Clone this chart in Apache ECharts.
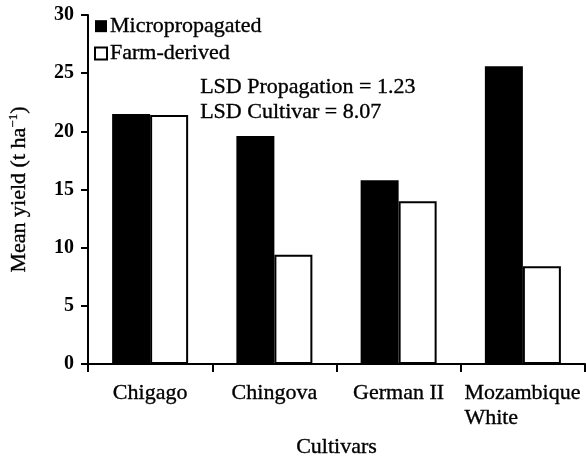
<!DOCTYPE html>
<html>
<head>
<meta charset="utf-8">
<script src="https://cdn.jsdelivr.net/npm/echarts@6/dist/echarts.min.js"></script>
<style>html,body{margin:0;padding:0;background:#fff}#c{width:586px;height:458px}</style>
</head>
<body>
<div id="c"></div>
<script>
const categories = ['Chigago', 'Chingova', 'German II', 'Mozambique\nWhite'];
const micropropagated = [21.5, 19.6, 15.8, 25.6];
const farmDerived = [21.4, 9.4, 14.0, 8.4];
const seriesNames = ['Micropropagated', 'Farm-derived'];
const lsdLines = ['LSD Propagation = 1.23', 'LSD Cultivar = 8.07'];
const yTicks = { min: 0, max: 30, interval: 5 };

const FONT = '"Liberation Serif", "Times New Roman", serif';
const TB = { textBorderColor: '#000', textBorderWidth: 0.35 };
const chart = echarts.init(document.getElementById('c'), null, { renderer: 'canvas' });
chart.setOption({
  animation: false,
  backgroundColor: '#fff',
  grid: { left: 88, right: 1, top: 15, bottom: 94, containLabel: false, outerBoundsMode: 'none' },
  legend: {
    orient: 'vertical', left: 89, top: 10, itemWidth: 12, itemHeight: 12, itemGap: 5,
    icon: 'rect',
    textStyle: Object.assign({ fontFamily: FONT, fontSize: 22, color: '#000', padding: [0, 0, 0, -2] }, TB),
    data: seriesNames
  },
  xAxis: {
    type: 'category', data: categories,
    name: 'Cultivars', nameLocation: 'middle', nameGap: 71,
    nameTextStyle: Object.assign({ fontFamily: FONT, fontSize: 22, color: '#000' }, TB),
    axisLine: { lineStyle: { color: '#000', width: 2 } },
    axisTick: { show: true, length: 8, lineStyle: { color: '#000', width: 2 } },
    axisLabel: {
      interval: 0, fontFamily: FONT, fontSize: 22, color: '#000', margin: 17, lineHeight: 25,
      textBorderColor: '#000', textBorderWidth: 0.35,
      formatter: function (v) {
        const parts = v.split('\n');
        if (parts.length === 1) return v;
        return parts.map(function (s) { return '{m|' + s + '}'; }).join('\n');
      },
      rich: { m: { fontFamily: FONT, fontSize: 22, color: '#000', lineHeight: 25, width: 117, align: 'left',
                   textBorderColor: '#000', textBorderWidth: 0.35 } }
    }
  },
  yAxis: {
    type: 'value', min: yTicks.min, max: yTicks.max, interval: yTicks.interval,
    name: 'Mean yield (t ha{sup|\u22121})', nameLocation: 'middle', nameGap: 56, nameRotate: 90,
    nameTextStyle: Object.assign({
      fontFamily: FONT, fontSize: 22, color: '#000',
      rich: { sup: { fontFamily: FONT, fontSize: 13, color: '#000', verticalAlign: 'top', padding: [0, 0, 12, 0],
                     textBorderColor: '#000', textBorderWidth: 0.3 } }
    }, TB),
    splitLine: { show: false },
    axisLine: { show: true, lineStyle: { color: '#000', width: 2 } },
    axisTick: { show: true, length: 7, lineStyle: { color: '#000', width: 2 } },
    axisLabel: { fontFamily: FONT, fontSize: 20, fontWeight: 'bold', color: '#000', margin: 14 }
  },
  graphic: [
    { type: 'text', left: 200, top: 76, style: { text: lsdLines[0], font: '22px ' + FONT, fill: '#000', stroke: '#000', lineWidth: 0.35 } },
    { type: 'text', left: 200, top: 101, style: { text: lsdLines[1], font: '22px ' + FONT, fill: '#000', stroke: '#000', lineWidth: 0.35 } }
  ],
  series: [
    { name: seriesNames[0], type: 'bar', data: micropropagated, barWidth: 38, barGap: '0%',
      itemStyle: { color: '#000', borderColor: '#000', borderWidth: 0 } },
    { name: seriesNames[1], type: 'bar', data: farmDerived, barWidth: 38,
      itemStyle: { color: '#fff', borderColor: '#000', borderWidth: 2 } }
  ]
});
</script>
</body>
</html>
